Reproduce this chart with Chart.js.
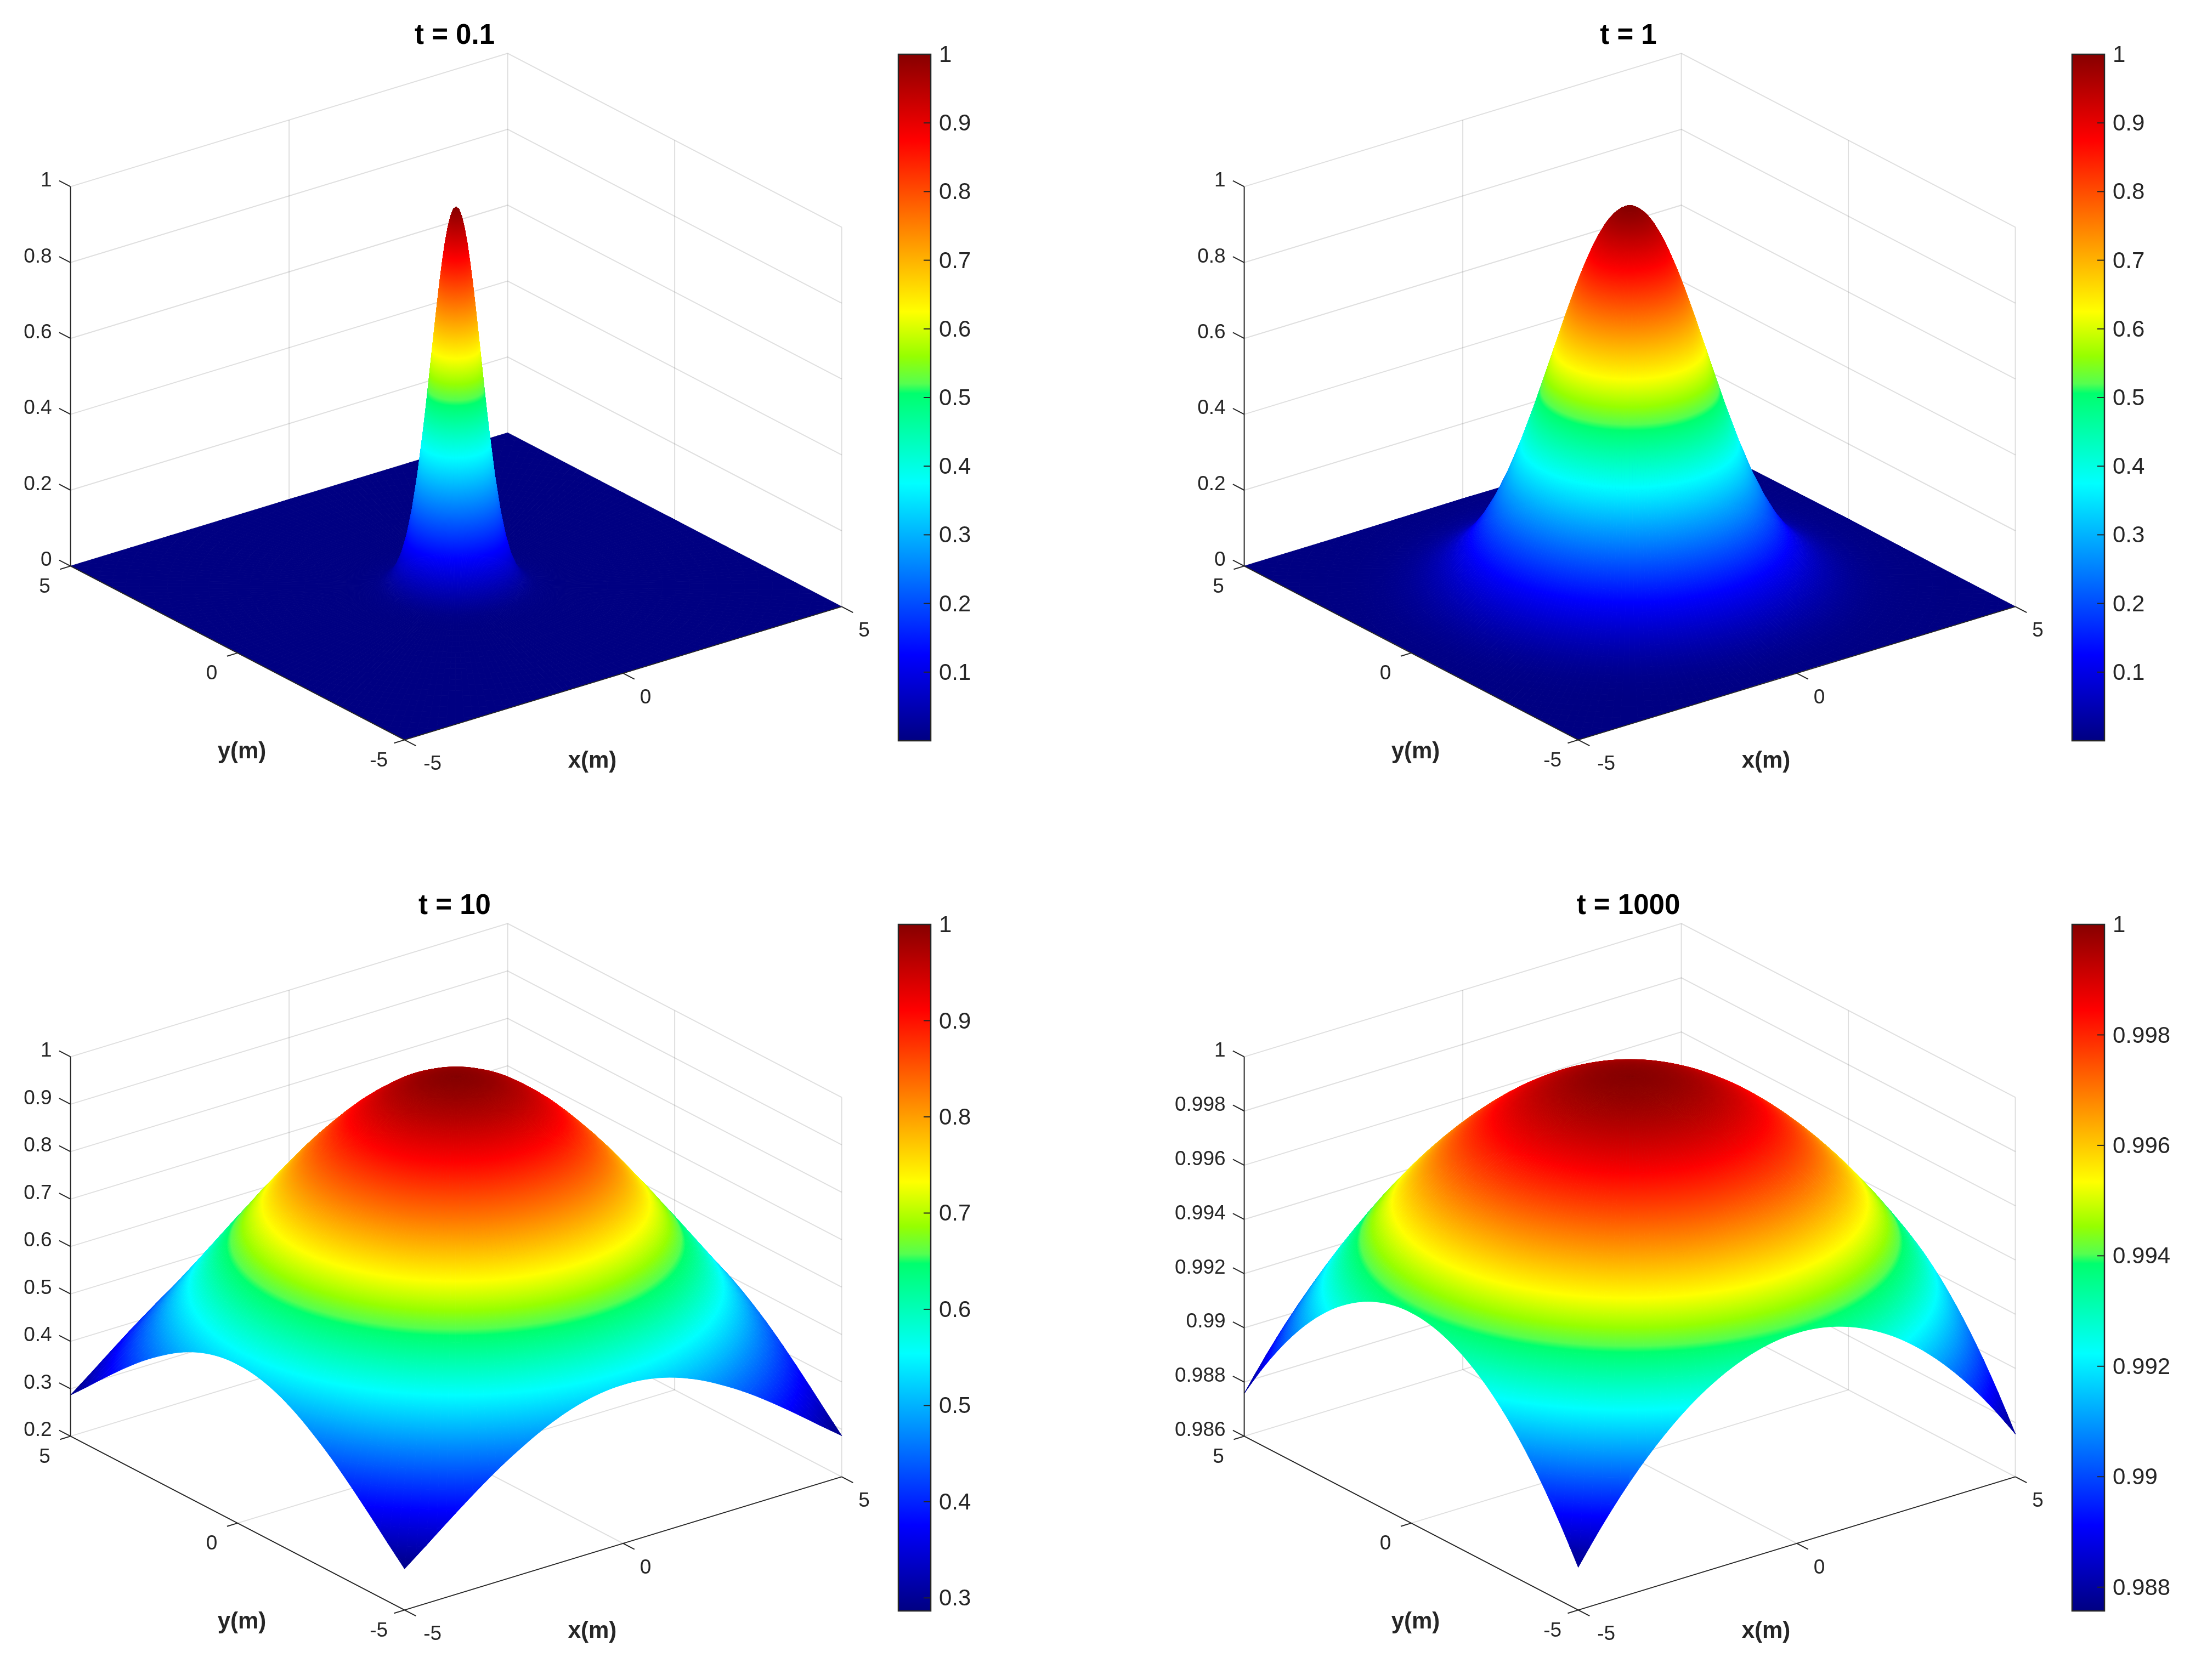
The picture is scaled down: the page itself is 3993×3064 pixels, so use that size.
<!DOCTYPE html>
<html>
<head>
<meta charset="utf-8">
<title>Surface plots</title>
<script src="https://cdn.jsdelivr.net/npm/chart.js@4"></script>
<style>
  html, body { margin: 0; padding: 0; background: #fff; }
  body { position: relative; width: 3993px; height: 3064px; overflow: hidden; }
  canvas { position: absolute; display: block; }
</style>
</head>
<body>
<script>
// Radial distance from the centre of the plate (m)
const radii = [0, 0.05, 0.1, 0.15, 0.2, 0.25, 0.3, 0.35, 0.4, 0.45, 0.5, 0.55, 0.6, 0.7, 0.8, 0.9, 1, 1.1, 1.2, 1.3, 1.4, 1.5,
  1.75, 2, 2.25, 2.5, 2.75, 3, 3.25, 3.5, 3.75, 4, 4.25, 4.5, 4.75, 5, 5.25, 5.5, 5.75, 6,
  6.25, 6.5, 6.75, 7, 7.08];

// Surface height at each radius
const heightT01 = [1, 0.994, 0.975, 0.945, 0.905, 0.855, 0.799, 0.736, 0.670, 0.603, 0.535, 0.469, 0.407, 0.294, 0.202, 0.132, 0.082, 0.049, 0.027, 0.015, 0.007, 0.004,
  0.0005, 0, 0, 0, 0, 0, 0, 0, 0, 0, 0, 0, 0, 0, 0, 0, 0, 0,
  0, 0, 0, 0, 0];
const heightT1 = [1, 0.999, 0.998, 0.994, 0.990, 0.984, 0.978, 0.970, 0.961, 0.951, 0.939, 0.927, 0.914, 0.885, 0.852, 0.817, 0.779, 0.739, 0.698, 0.655, 0.613, 0.570,
  0.465, 0.368, 0.282, 0.210, 0.151, 0.105, 0.071, 0.047, 0.030, 0.018, 0.011, 0.006, 0.004, 0.002, 0.001, 0.0005, 0, 0,
  0, 0, 0, 0, 0];
const heightT10 = [1, 1, 1, 0.999, 0.999, 0.998, 0.998, 0.997, 0.996, 0.995, 0.994, 0.992, 0.991, 0.988, 0.984, 0.980, 0.975, 0.970, 0.965, 0.959, 0.952, 0.945,
  0.926, 0.905, 0.881, 0.855, 0.828, 0.799, 0.768, 0.736, 0.704, 0.670, 0.637, 0.603, 0.569, 0.535, 0.502, 0.469, 0.438, 0.407,
  0.377, 0.348, 0.320, 0.294, 0.286];
const heightT1000 = [1, 1, 1, 0.99999, 0.99999, 0.99998, 0.99998, 0.99997, 0.99996, 0.99995, 0.99994, 0.99992, 0.99991, 0.99988, 0.99984, 0.99980, 0.99975, 0.99970, 0.99964, 0.99958, 0.99951, 0.99944,
  0.99923, 0.99900, 0.99873, 0.99844, 0.99811, 0.99775, 0.99736, 0.99694, 0.99649, 0.99601, 0.99550, 0.99495, 0.99438, 0.99377, 0.99313, 0.99247, 0.99177, 0.99104,
  0.99028, 0.98949, 0.98867, 0.98782, 0.98755];

// Tick labels
const xTicks = [-5, 0, 5];
const yTicks = [-5, 0, 5];
const zTicksUnit = [0, 0.2, 0.4, 0.6, 0.8, 1];
const zTicksT10 = [0.2, 0.3, 0.4, 0.5, 0.6, 0.7, 0.8, 0.9, 1];
const zTicksT1000 = [0.986, 0.988, 0.99, 0.992, 0.994, 0.996, 0.998, 1];
const barTicksUnit = [0.1, 0.2, 0.3, 0.4, 0.5, 0.6, 0.7, 0.8, 0.9, 1];
const barTicksT10 = [0.3, 0.4, 0.5, 0.6, 0.7, 0.8, 0.9, 1];
const barTicksT1000 = [0.988, 0.99, 0.992, 0.994, 0.996, 0.998, 1];

// Panel titles
const titles = ['t = 0.1', 't = 1', 't = 10', 't = 1000'];

// Layout
const COL_OFFSET = 2140;
const ROW_OFFSET = 1587;
const PLOT_W = 1658;
const PLOT_H = 1500;
const TITLE_BLOCK = 96.2;
const FONT = '"Liberation Sans", Arial, Helvetica, sans-serif';
const INK = '#262626';
const GRID_COLOR = 'rgba(38,38,38,0.15)';

// Projection of the 3D box onto the page, in picture pixels
const CENTER = { x: 831.6, y: 1069.4 };
const X_STEP = { x: 79.7, y: -24.3 };
const Y_STEP = { x: -60.9, y: -31.7 };
const Z_HEIGHT = 692;
const SECTORS = 240;

// Modified jet colormap seen on the colorbars
const CMAP_POS = [0, 0.125, 0.375, 0.506, 0.52, 0.56, 0.625, 0.875, 1];
const CMAP_RGB = [[0, 0, 130], [0, 0, 255], [0, 255, 255], [0, 255, 110], [85, 255, 80],
  [150, 255, 0], [255, 255, 0], [255, 0, 0], [135, 0, 0]];

const cmapColor = (c) => {
  const t = Math.min(1, Math.max(0, c));
  let k = 0;
  while (k < CMAP_POS.length - 2 && t > CMAP_POS[k + 1]) k++;
  const f = (t - CMAP_POS[k]) / (CMAP_POS[k + 1] - CMAP_POS[k]);
  const rgb = CMAP_RGB[k].map((v, n) => Math.round(v + (CMAP_RGB[k + 1][n] - v) * f));
  return `rgb(${rgb[0]},${rgb[1]},${rgb[2]})`;
};

const project = (x, y, zNorm) => ({
  x: CENTER.x + X_STEP.x * x + Y_STEP.x * y,
  y: CENTER.y + X_STEP.y * x + Y_STEP.y * y - Z_HEIGHT * zNorm
});

// The plate is square, so mesh rings get cut at its edge
const edgeValue = (values, r) => {
  let k = 0;
  while (k < radii.length - 2 && r > radii[k + 1]) k++;
  const f = (r - radii[k]) / (radii[k + 1] - radii[k]);
  return values[k] + (values[k + 1] - values[k]) * f;
};

function buildMesh(values, zMin, zMax) {
  const points = [];
  for (let j = 0; j < SECTORS; j++) {
    const a = (j / SECTORS) * Math.PI * 2;
    const cos = Math.cos(a);
    const sin = Math.sin(a);
    const rim = 5 / Math.max(Math.abs(cos), Math.abs(sin));
    radii.forEach((radius, i) => {
      const r = Math.min(radius, rim);
      const z = r === radius ? values[i] : edgeValue(values, r);
      const px = r * cos;
      const py = r * sin;
      const p = project(px, py, (z - zMin) / (zMax - zMin));
      // far: distance away from the viewer on the floor plane
      points.push({ x: p.x, y: p.y, z, far: 60.9 * px + 79.7 * py, r });
    });
  }
  const n = radii.length;
  const quads = [];
  for (let j = 0; j < SECTORS; j++) {
    const next = (j + 1) % SECTORS;
    for (let i = 0; i < n - 1; i++) {
      const q = [j * n + i, next * n + i, next * n + i + 1, j * n + i + 1];
      if (points[q[0]].r === points[q[3]].r && points[q[1]].r === points[q[2]].r) continue;
      const far = q.reduce((sum, k) => sum + points[k].far, 0) / 4;
      quads.push({ q, far });
    }
  }
  quads.sort((a, b) => b.far - a.far);
  return { points, quads };
}

// Paints the mesh from the points Chart.js has placed through its scales
const surfacePlugin = (quads, points, cMin, cMax) => ({
  id: 'surface',
  afterDatasetDraw(chart, args) {
    if (chart.data.datasets[args.index].label !== 'surface') return;
    const { ctx } = chart;
    const els = args.meta.data;
    const toC = (z) => (z - cMin) / (cMax - cMin);
    ctx.save();
    ctx.lineWidth = 1;
    ctx.lineJoin = 'round';
    quads.forEach(({ q }) => {
      const [a, b, c, d] = q.map((k) => els[k]);
      const c0 = toC((points[q[0]].z + points[q[1]].z) / 2);
      const c1 = toC((points[q[2]].z + points[q[3]].z) / 2);
      const m0 = { x: (a.x + b.x) / 2, y: (a.y + b.y) / 2 };
      const m1 = { x: (c.x + d.x) / 2, y: (c.y + d.y) / 2 };
      let ex = b.x - a.x;
      let ey = b.y - a.y;
      if (Math.hypot(ex, ey) < 0.01) { ex = c.x - d.x; ey = c.y - d.y; }
      const el = Math.hypot(ex, ey) || 1;
      const nx = -ey / el;
      const ny = ex / el;
      const len = (m1.x - m0.x) * nx + (m1.y - m0.y) * ny;
      let style;
      if (Math.abs(len) < 0.3 || Math.abs(c1 - c0) < 0.0005) {
        style = cmapColor((c0 + c1) / 2);
      } else {
        style = ctx.createLinearGradient(m0.x, m0.y, m0.x + nx * len, m0.y + ny * len);
        style.addColorStop(0, cmapColor(c0));
        CMAP_POS.forEach((pos) => {
          const f = (pos - c0) / (c1 - c0);
          if (f > 0 && f < 1) style.addColorStop(f, cmapColor(pos));
        });
        style.addColorStop(1, cmapColor(c1));
      }
      ctx.beginPath();
      ctx.moveTo(a.x, a.y);
      ctx.lineTo(b.x, b.y);
      ctx.lineTo(c.x, c.y);
      ctx.lineTo(d.x, d.y);
      ctx.closePath();
      ctx.fillStyle = style;
      ctx.strokeStyle = style;
      ctx.fill();
      ctx.stroke();
    });
    ctx.restore();
  }
});

// Tick labels and axis names on the projected box
const boxLabelsPlugin = (zTicks, zMin, zMax) => ({
  id: 'boxLabels',
  afterDraw(chart) {
    const { ctx, scales } = chart;
    const put = (text, x, y) => ctx.fillText(text, scales.x.getPixelForValue(x), scales.y.getPixelForValue(y));
    ctx.save();
    ctx.fillStyle = INK;
    ctx.textBaseline = 'middle';
    ctx.font = `37px ${FONT}`;
    ctx.textAlign = 'right';
    zTicks.forEach((t) => {
      const p = project(-5, 5, (t - zMin) / (zMax - zMin));
      put(String(t), p.x - 34, p.y - 10.5);
    });
    ctx.textAlign = 'center';
    xTicks.forEach((t) => {
      const p = project(t, -5, 0);
      put(String(t), p.x + 41 + (t < 0 ? 10 : 0), p.y + 44.5);
    });
    yTicks.forEach((t) => {
      const p = project(-5, t, 0);
      put(String(t), p.x - 47, p.y + 38);
    });
    ctx.font = `bold 42px ${FONT}`;
    put('y(m)', 441, 1371);
    put('x(m)', 1080, 1388);
    ctx.restore();
  }
});

const lineSet = (pts, color, order) => ({
  data: pts,
  showLine: true,
  pointRadius: 0,
  borderColor: color,
  borderWidth: 2,
  order,
  clip: false
});

function boxDatasets(zTicks, zMin, zMax) {
  const sets = [];
  const zn = (t) => (t - zMin) / (zMax - zMin);
  // Back walls and floor
  zTicks.forEach((t) => {
    sets.push(lineSet([project(-5, 5, zn(t)), project(5, 5, zn(t)), project(5, -5, zn(t))], GRID_COLOR, 3));
  });
  [project(5, 5, 0), project(0, 5, 0), project(5, 0, 0), project(5, -5, 0)].forEach((p) => {
    sets.push(lineSet([p, { x: p.x, y: p.y - Z_HEIGHT }], GRID_COLOR, 3));
  });
  sets.push(lineSet([project(0, -5, 0), project(0, 5, 0)], GRID_COLOR, 3));
  sets.push(lineSet([project(-5, 0, 0), project(5, 0, 0)], GRID_COLOR, 3));
  // Rulers
  sets.push(lineSet([project(-5, 5, 0), project(-5, 5, 1)], INK, 1));
  sets.push(lineSet([project(-5, 5, 0), project(-5, -5, 0)], INK, 1));
  sets.push(lineSet([project(-5, -5, 0), project(5, -5, 0)], INK, 1));
  zTicks.forEach((t) => {
    sets.push(lineSet([project(-5, 5, zn(t)), project(-5, 5.34, zn(t))], INK, 1));
  });
  xTicks.forEach((t) => sets.push(lineSet([project(t, -5, 0), project(t, -5.34, 0)], INK, 1)));
  yTicks.forEach((t) => sets.push(lineSet([project(-5, t, 0), project(-5.24, t, 0)], INK, 1)));
  return sets;
}

function addCanvas(left, top, width, height) {
  const canvas = document.createElement('canvas');
  canvas.width = width;
  canvas.height = height;
  canvas.style.left = left + 'px';
  canvas.style.top = top + 'px';
  canvas.style.width = width + 'px';
  canvas.style.height = height + 'px';
  document.body.appendChild(canvas);
  return canvas;
}

function drawSurfacePanel(panel) {
  const { left, top, title, values, zTicks, cMin } = panel;
  const zMin = zTicks[0];
  const zMax = zTicks[zTicks.length - 1];
  const mesh = buildMesh(values, zMin, zMax);
  new Chart(addCanvas(left, top, PLOT_W, PLOT_H), {
    type: 'scatter',
    data: {
      datasets: [
        {
          label: 'surface',
          data: mesh.points,
          pointRadius: 0,
          showLine: false,
          order: 2,
          clip: false
        },
        ...boxDatasets(zTicks, zMin, zMax)
      ]
    },
    options: {
      responsive: false,
      animation: false,
      devicePixelRatio: 1,
      events: [],
      layout: { padding: 0 },
      plugins: {
        legend: { display: false },
        tooltip: { enabled: false },
        title: {
          display: true,
          text: title,
          color: '#000',
          font: { size: 51, weight: 'bold', family: FONT, lineHeight: 1.2 },
          padding: { top: 35, bottom: 0 }
        }
      },
      scales: {
        x: { type: 'linear', display: false, min: 0, max: PLOT_W },
        y: { type: 'linear', display: false, reverse: true, min: TITLE_BLOCK, max: PLOT_H }
      }
    },
    plugins: [surfacePlugin(mesh.quads, mesh.points, cMin, zMax), boxLabelsPlugin(zTicks, zMin, zMax)]
  });
}

function drawColorbar(panel) {
  const { left, top, barTicks, cMin, zTicks } = panel;
  const cMax = zTicks[zTicks.length - 1];
  new Chart(addCanvas(left + 1635, top + 59, 215, 1332), {
    type: 'bar',
    data: {
      labels: ['colorbar'],
      datasets: [{
        data: [[cMin, cMax]],
        barPercentage: 1,
        categoryPercentage: 1,
        borderWidth: 0,
        borderSkipped: false,
        backgroundColor: (ctx) => {
          const area = ctx.chart.chartArea;
          if (!area) return cmapColor(0);
          const g = ctx.chart.ctx.createLinearGradient(0, area.bottom, 0, area.top);
          CMAP_POS.forEach((pos) => g.addColorStop(pos, cmapColor(pos)));
          return g;
        }
      }]
    },
    options: {
      responsive: false,
      animation: false,
      devicePixelRatio: 1,
      events: [],
      layout: { padding: { left: 3, top: 40, bottom: 40, right: 0 } },
      plugins: { legend: { display: false }, tooltip: { enabled: false } },
      scales: {
        x: { display: false },
        y: {
          position: 'right',
          min: cMin,
          max: cMax,
          grid: { display: false, drawTicks: false },
          border: { display: false },
          afterBuildTicks: (axis) => { axis.ticks = barTicks.map((value) => ({ value })); },
          afterFit: (axis) => { axis.width = 153; },
          ticks: { display: false }
        }
      }
    },
    plugins: [{
      id: 'barFrame',
      afterDatasetsDraw(chart) {
        const { ctx, chartArea: area, scales } = chart;
        ctx.save();
        ctx.strokeStyle = INK;
        ctx.lineWidth = 2.5;
        ctx.strokeRect(area.left, area.top, area.width, area.height);
        ctx.lineWidth = 2;
        ctx.fillStyle = INK;
        ctx.font = `42px ${FONT}`;
        ctx.textAlign = 'left';
        ctx.textBaseline = 'middle';
        barTicks.forEach((t) => {
          const y = scales.y.getPixelForValue(t);
          ctx.beginPath();
          ctx.moveTo(area.right, y);
          ctx.lineTo(area.right - 13, y);
          ctx.stroke();
          ctx.fillText(String(t), area.right + 15, y + 2.5);
        });
        ctx.restore();
      }
    }]
  });
}

const panels = [
  { left: 0, top: 0, title: titles[0], values: heightT01, zTicks: zTicksUnit, barTicks: barTicksUnit, cMin: 0 },
  { left: COL_OFFSET, top: 0, title: titles[1], values: heightT1, zTicks: zTicksUnit, barTicks: barTicksUnit, cMin: 0 },
  { left: 0, top: ROW_OFFSET, title: titles[2], values: heightT10, zTicks: zTicksT10, barTicks: barTicksT10, cMin: 0.2865 },
  { left: COL_OFFSET, top: ROW_OFFSET, title: titles[3], values: heightT1000, zTicks: zTicksT1000, barTicks: barTicksT1000, cMin: 0.98757 }
];

panels.forEach((panel) => {
  drawSurfacePanel(panel);
  drawColorbar(panel);
});
</script>
</body>
</html>
